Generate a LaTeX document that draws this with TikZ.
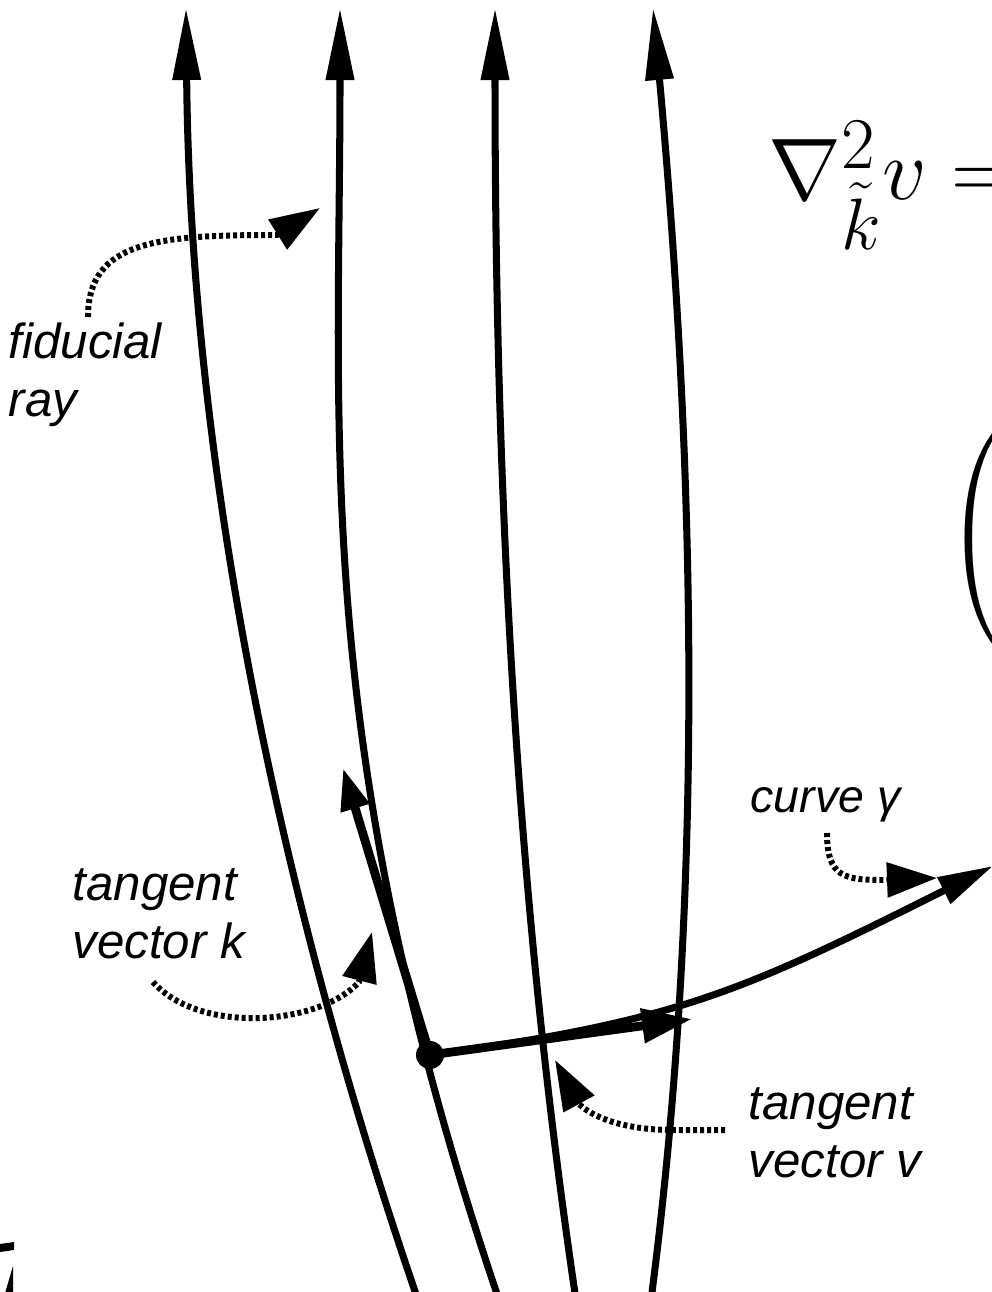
\documentclass[tikz,border=0pt]{standalone}
\usepackage{amsmath}
\usepackage{fontspec}
\setsansfont{Liberation Sans}
\usepackage{tikz}
\usetikzlibrary{arrows.meta}

\begin{document}
\begin{tikzpicture}[x=0.01cm, y=-0.01cm,
    ray/.style = {line width=2pt, -{Triangle[length=0.72cm, width=0.27cm]}},
    vec/.style = {line width=2.5pt},
    pointer/.style = {line width=1.7pt, dash pattern=on 0.04cm off 0.03cm, -{Triangle[length=0.5cm, width=0.34cm]}},
    lbl/.style = {font=\sffamily\itshape\fontsize{14}{16.5}\selectfont, align=left, inner sep=0pt}]
        \useasboundingbox (0,0) rectangle (991,1292);
        \clip (0,0) rectangle (991,1292);
        \coordinate (p) at (430,1055);
        \coordinate (ktip) at (343,768);
        \coordinate (vtip) at (692,1019);
        \coordinate (gend) at (993,866);
        \draw[ray] (418,1300) .. controls (268,864) and (190,436) .. (186,8);
        \draw[ray] (499,1300) .. controls (310,742) and (340,436) .. (340,8);
        \draw[ray] (576,1300) .. controls (511,864) and (495,436) .. (495,8);
        \draw[ray] (651,1300) .. controls (708,864) and (692,436) .. (653,8);
        \draw[vec, -{Triangle[length=0.42cm, width=0.28cm]}] (p) -- (ktip);
        \draw[vec, -{Triangle[length=0.5cm, width=0.33cm]}] (p) -- (vtip);
        \draw[line width=2pt, -{Triangle[length=0.55cm, width=0.28cm]}] (p) .. controls (680,1021) and (743,991) .. (gend);
        \fill (p) circle (0.14cm);
        \node[lbl, anchor=north west] (fid) at (8,322) {fiducial\\ray};
        \node[lbl, anchor=north west] (tk) at (72,868) {tangent\\vector k};
        \node[lbl, anchor=base west, font=\sffamily\itshape\fontsize{13.2}{16}\selectfont] (cg) at (750,812) {curve γ};
        \node[lbl, anchor=north west] (tv) at (748,1087) {tangent\\vector v};
        \draw[pointer] (88,317) .. controls (88,240) and (160,235) .. (277,235) -- (320,208);
        \draw[pointer] (153,982) .. controls (200,1035) and (320,1025) .. (359,982) -- (372,932);
        \draw[pointer] (827,833) .. controls (827,878) and (845,880) .. (885,880) -- (937,878);
        \draw[pointer] (725,1130) -- (673,1130) .. controls (620,1130) and (590,1115) .. (579,1104) -- (555,1060);
        \node[anchor=base west, inner sep=0pt, font=\fontsize{24.88}{28}\selectfont] (lhs) at (768,200) {$\nabla^2_{\tilde{k}} v =$};
        \node[anchor=west, inner sep=0pt] (paren) at (946,545) {\scalebox{2.23}{$\left(\vrule height 14.5pt depth 14pt width 0pt\right.$}};
        \fill (0,1244) -- (14,1242) -- (14,1250) -- (0,1252) -- cycle;
        \fill (13,1266) -- (13,1300) -- (3,1300) -- cycle;
      \end{tikzpicture}
\end{document}
